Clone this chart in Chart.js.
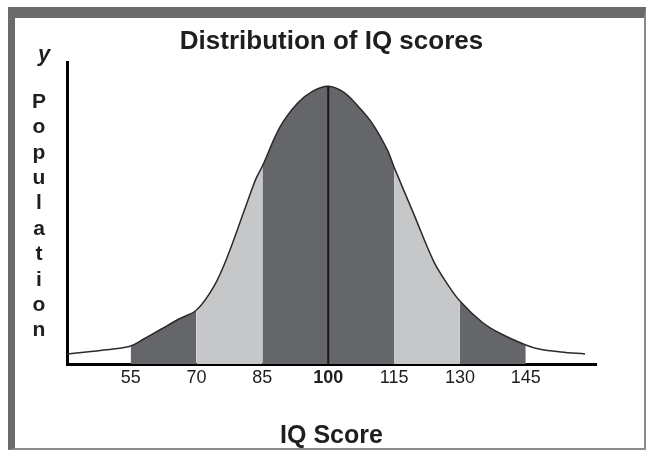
<!DOCTYPE html>
<html>
<head>
<meta charset="utf-8">
<script src="https://cdn.jsdelivr.net/npm/chart.js@4.4.1/dist/chart.umd.min.js"></script>
<style>
  html, body { margin: 0; padding: 0; background: #fff; }
  #wrap { position: relative; width: 647px; height: 451px; }
  #frame {
    position: absolute; left: 8px; top: 7px; width: 638px; height: 443px; box-sizing: border-box;
    border-left: 7px solid #6b6b6b; border-top: 11px solid #6b6b6b;
    border-right: 2px solid #8c8c8c; border-bottom: 2px solid #8c8c8c;
  }
  canvas { position: absolute; left: 0; top: 0; }
</style>
</head>
<body>
<div id="wrap">
  <div id="frame"></div>
  <canvas id="iq-chart" width="647" height="451"></canvas>
</div>
<script>
// values (population in relative units, 0 at the axis)
const iqScores = [40.5, 46, 51, 55, 58, 62, 66, 70, 74, 77, 81, 83.5, 85, 89, 93, 96.5, 100,
                  103.5, 107, 110, 113.5, 115, 119.5, 124, 127, 130, 135, 139, 145, 148, 153, 158.5];
const population = [10, 12.5, 15, 18, 25, 35, 45, 54, 78, 107, 155, 185, 198, 237, 261, 273, 278,
                    272, 257, 241, 214, 197, 150, 103, 81, 63, 42, 31, 19, 15, 12, 10];
const tickValues = [55, 70, 85, 100, 115, 130, 145];
const bandEdges = [40.5, 55, 70, 85, 115, 130, 145, 158.5];

const DARK = '#65666a';
const LIGHT = '#c6c7c9';
const bandColors = ['transparent', DARK, LIGHT, DARK, LIGHT, DARK, 'transparent'];

Chart.defaults.font.family = '"Liberation Sans", Arial, sans-serif';
Chart.defaults.color = '#1e1e1e';

function bandColor(x) {
    for (let i = 0; i < bandColors.length; i++) {
        if (x >= bandEdges[i] && x <= bandEdges[i + 1]) return bandColors[i];
    }
    return 'transparent';
}

const peak = population[iqScores.indexOf(100)];

// "y" and the stacked letters of "Population" on the left
const yLabelPlugin = {
    id: 'yLabel',
    afterDraw(chart) {
        const ctx = chart.ctx;
        const left = chart.chartArea.left;
        ctx.save();
        ctx.fillStyle = '#1e1e1e';
        ctx.textAlign = 'center';
        ctx.textBaseline = 'middle';
        ctx.font = 'italic bold 22px "Liberation Sans", Arial, sans-serif';
        ctx.fillText('y', left - 23, 55);
        ctx.font = 'bold 21px "Liberation Sans", Arial, sans-serif';
        'Population'.split('').forEach((c, i) => {
            ctx.fillText(c, left - 28, 102 + i * 25.4);
        });
        ctx.restore();
    }
};

new Chart(document.getElementById('iq-chart'), {
    type: 'line',
    data: {
        datasets: [{
            data: [{ x: 100, y: 0 }, { x: 100, y: peak }],
            borderColor: '#1a1a1a',
            borderWidth: 2,
            pointRadius: 0,
            fill: false
        }, {
            data: iqScores.map((x, i) => ({ x: x, y: population[i] })),
            borderColor: '#2a2a2a',
            borderWidth: 1.5,
            pointRadius: 0,
            tension: 0.35,
            fill: 'origin',
            backgroundColor: 'transparent',
            segment: {
                backgroundColor: ctx => bandColor((ctx.p0.parsed.x + ctx.p1.parsed.x) / 2)
            }
        }]
    },
    plugins: [yLabelPlugin],
    options: {
        responsive: false,
        animation: false,
        layout: { padding: { left: 67, right: 51, top: 26, bottom: 0 } },
        plugins: {
            legend: { display: false },
            tooltip: { enabled: false },
            title: {
                display: true,
                text: 'Distribution of IQ scores',
                fullSize: false,
                font: { size: 26, weight: 'bold' },
                padding: { top: 0, bottom: 5 }
            }
        },
        scales: {
            x: {
                type: 'linear',
                min: 40.5,
                max: 161,
                grid: { display: false, drawTicks: false },
                border: { display: true, color: '#000', width: 3 },
                afterBuildTicks: s => { s.ticks = tickValues.map(v => ({ value: v })); },
                afterFit: s => { s.height = 87; },
                ticks: {
                    padding: 3,
                    font: ctx => ({ size: 18, weight: ctx.tick && ctx.tick.value === 100 ? 'bold' : 'normal' })
                },
                title: {
                    display: true,
                    text: 'IQ Score',
                    font: { size: 25, weight: 'bold' },
                    padding: { top: 0, bottom: 0 }
                }
            },
            y: {
                min: 0,
                max: 302,
                grid: { display: false, drawTicks: false },
                border: { display: true, color: '#000', width: 3 },
                ticks: { display: false },
                afterFit: s => { s.width = 0; }
            }
        }
    }
});
</script>
</body>
</html>
